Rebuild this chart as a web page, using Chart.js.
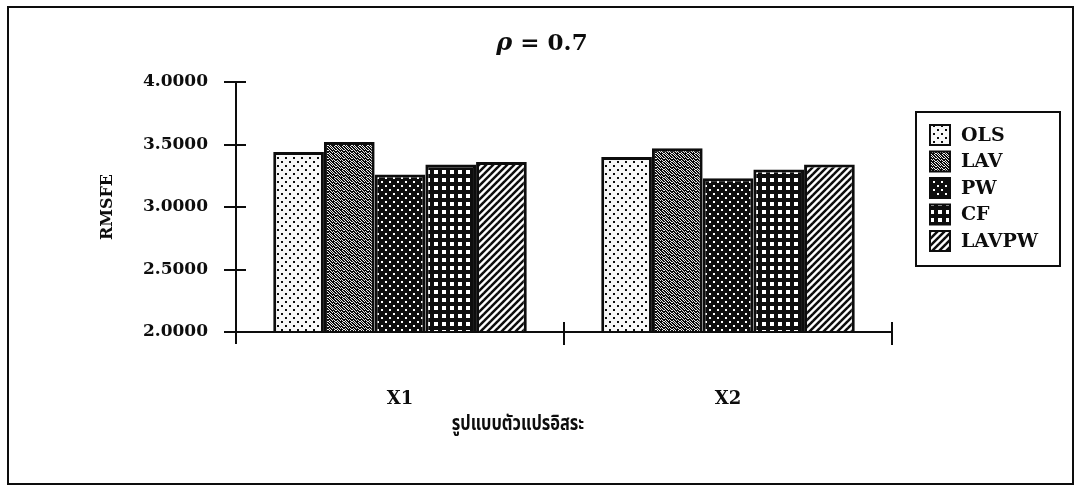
<!DOCTYPE html>
<html>
<head>
<meta charset="utf-8">
<script src="https://cdn.jsdelivr.net/npm/chart.js@4.4.1/dist/chart.umd.min.js"></script>
<style>
  html, body { margin: 0; padding: 0; background: #ffffff; }
  #wrap { width: 1081px; height: 490px; position: relative; }
</style>
</head>
<body>
<div id="wrap"><canvas id="c" width="1081" height="490"></canvas></div>
<script>
// ---- data ----
const categories = ['X1', 'X2'];
const seriesNames = ['OLS', 'LAV', 'PW', 'CF', 'LAVPW'];
const olsValues = [3.44, 3.40];
const lavValues = [3.52, 3.47];
const pwValues = [3.26, 3.23];
const cfValues = [3.34, 3.30];
const lavpwValues = [3.36, 3.34];
const yTicks = [2.0, 2.5, 3.0, 3.5, 4.0];
const titleSymbol = 'ρ';
const titleRest = ' = 0.7';
const yTitle = 'RMSFE';
const xTitle = 'รูปแบบตัวแปรอิสระ';

const SERIF = '"DejaVu Serif", "Liberation Serif", serif';
const THAI = '"Noto Sans Thai", "Noto Serif Thai", "Loma", "Garuda", "Tlwg Typo", "DejaVu Sans", sans-serif';
const INK = '#0d0d0d';

// ---- fill patterns ----
const mainCtx = document.getElementById('c').getContext('2d');
function makePattern(w, h, draw) {
  const t = document.createElement('canvas');
  t.width = w; t.height = h;
  const g = t.getContext('2d');
  draw(g, w, h);
  return mainCtx.createPattern(t, 'repeat');
}
function fromBits(bits, on, off) {
  return makePattern(bits[0].length, bits.length, (g, w, h) => {
    g.fillStyle = off; g.fillRect(0, 0, w, h);
    g.fillStyle = on;
    bits.forEach((row, y) => { for (let x = 0; x < row.length; x++) if (row[x] === '1') g.fillRect(x, y, 1, 1); });
  });
}
// sparse black dots on white
const olsFill = makePattern(8, 8, (g) => {
  g.fillStyle = '#f8f8f8'; g.fillRect(0, 0, 8, 8);
  g.fillStyle = INK; g.fillRect(1, 1, 2, 2); g.fillRect(5, 5, 2, 2);
});
// dense grey dither
const lavFill = fromBits([
  '10110101',
  '01011110',
  '10101101',
  '11010110',
  '01101011',
  '10110101',
  '01011110',
  '11101011'
], INK, '#eeeeee');
// white dots on black
const pwFill = makePattern(8, 8, (g) => {
  g.fillStyle = INK; g.fillRect(0, 0, 8, 8);
  g.fillStyle = '#fff'; g.fillRect(1, 1, 2, 2); g.fillRect(5, 5, 2, 2);
});
// white squares on black grid
const cfFill = makePattern(8, 8, (g) => {
  g.fillStyle = INK; g.fillRect(0, 0, 8, 8);
  g.fillStyle = '#fff'; g.fillRect(2, 2, 4, 4);
});
// forward diagonal hatching
const lavpwFill = makePattern(7, 7, (g) => {
  g.fillStyle = '#fff'; g.fillRect(0, 0, 7, 7);
  g.strokeStyle = INK; g.lineWidth = 2.5;
  for (const o of [-7, 0, 7]) {
    g.beginPath(); g.moveTo(o - 1, 8); g.lineTo(o + 8, -1); g.stroke();
  }
});

const fills = [olsFill, lavFill, pwFill, cfFill, lavpwFill];
const seriesValues = [olsValues, lavValues, pwValues, cfValues, lavpwValues];

// ---- plugins: frame, title, axes, legend, x-axis title ----
const decorations = {
  id: 'decorations',
  beforeDraw(chart) {
    const ctx = chart.ctx;
    ctx.save();
    ctx.fillStyle = '#fff';
    ctx.fillRect(0, 0, chart.width, chart.height);
    ctx.strokeStyle = INK;
    ctx.lineWidth = 2;
    ctx.strokeRect(8, 7, 1065, 477);
    ctx.restore();
  },
  afterDatasetsDraw(chart) {
    const ctx = chart.ctx;
    const { left, right, top, bottom } = chart.chartArea;
    const y = chart.scales.y;
    ctx.save();
    ctx.strokeStyle = INK;
    ctx.lineWidth = 2;
    // vertical axis with crossing ticks
    ctx.beginPath();
    ctx.moveTo(left, top - 1); ctx.lineTo(left, bottom + 12);
    yTicks.forEach(v => {
      const py = Math.round(y.getPixelForValue(v));
      ctx.moveTo(left - 12, py); ctx.lineTo(left + 10, py);
    });
    // horizontal axis with category boundary ticks
    ctx.moveTo(left - 12, bottom); ctx.lineTo(right, bottom);
    const mid = (left + right) / 2;
    [mid, right].forEach(px => {
      ctx.moveTo(px, bottom - 10); ctx.lineTo(px, bottom + 13);
    });
    ctx.stroke();

    // title
    ctx.fillStyle = INK;
    ctx.textBaseline = 'alphabetic';
    ctx.font = 'italic bold 24px ' + SERIF;
    const w1 = ctx.measureText(titleSymbol).width;
    ctx.font = 'bold 23px ' + SERIF;
    const w2 = ctx.measureText(titleRest).width;
    const tx = 542 - (w1 + w2) / 2;
    ctx.font = 'italic bold 24px ' + SERIF;
    ctx.fillText(titleSymbol, tx, 50);
    ctx.font = 'bold 23px ' + SERIF;
    ctx.fillText(titleRest, tx + w1, 50);

    // x-axis title, set slightly condensed
    ctx.save();
    ctx.translate(518, 426);
    ctx.scale(0.78, 1);
    ctx.font = 'bold 21px ' + THAI;
    ctx.textAlign = 'center';
    ctx.textBaseline = 'middle';
    ctx.fillText(xTitle, 0, 0);
    ctx.restore();

    // legend
    ctx.lineWidth = 2;
    ctx.strokeRect(916, 112, 144, 154);
    ctx.textAlign = 'left';
    ctx.textBaseline = 'middle';
    ctx.font = 'bold 19px ' + SERIF;
    chart.data.datasets.forEach((ds, i) => {
      const cy = 135 + i * 26.5;
      ctx.fillStyle = ds.backgroundColor;
      ctx.fillRect(930, cy - 10, 20, 20);
      ctx.lineWidth = 2;
      ctx.strokeRect(930, cy - 10, 20, 20);
      ctx.fillStyle = INK;
      ctx.fillText(ds.label, 961, cy + 1);
    });
    ctx.restore();
  }
};

new Chart(document.getElementById('c'), {
  type: 'bar',
  data: {
    labels: categories,
    datasets: seriesNames.map((name, i) => ({
      label: name,
      data: seriesValues[i],
      backgroundColor: fills[i],
      borderColor: INK,
      borderWidth: 3,
      barPercentage: 1.0,
      categoryPercentage: 0.773
    }))
  },
  options: {
    responsive: false,
    animation: false,
    layout: { padding: { top: 82, right: 189, bottom: 0, left: 0 } },
    plugins: {
      legend: { display: false },
      title: { display: false },
      tooltip: { enabled: false }
    },
    scales: {
      x: {
        grid: { display: false, drawTicks: false },
        border: { display: false },
        ticks: { color: INK, padding: 57, font: { family: SERIF, size: 18, weight: 'bold' } },
        afterFit(scale) { scale.height = 158; }
      },
      y: {
        min: 2,
        max: 4,
        afterBuildTicks(scale) { scale.ticks = yTicks.map(v => ({ value: v })); },
        grid: { display: false, drawTicks: false },
        border: { display: false },
        ticks: {
          color: INK,
          padding: 28,
          font: { family: SERIF, size: 17, weight: 'bold' },
          callback: (v) => Number(v).toFixed(4)
        },
        title: {
          display: true,
          text: yTitle,
          color: INK,
          font: { family: SERIF, size: 16, weight: 'bold' },
          padding: { top: 98, bottom: 0 }
        },
        afterFit(scale) { scale.width = 236; }
      }
    }
  },
  plugins: [decorations]
});
</script>
</body>
</html>
